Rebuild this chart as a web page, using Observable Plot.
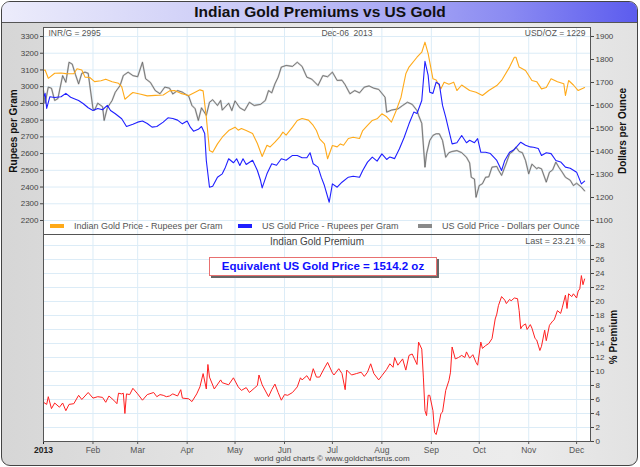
<!DOCTYPE html>
<html><head><meta charset="utf-8">
<script src="https://cdn.jsdelivr.net/npm/d3@7"></script>
<script src="https://cdn.jsdelivr.net/npm/@observablehq/plot@0.6"></script>
<style>
body{margin:0;background:#fff;font-family:"Liberation Sans",Arial,sans-serif;}
#wrap{position:relative;width:640px;height:467px;overflow:hidden;background:#fff;}
#bg{position:absolute;left:1px;top:1px;width:637px;height:465px;border:1.5px solid #444;border-radius:9px;background:linear-gradient(90deg,#d6d6d6,#e6e6e6 40%,#ececec 80%,#e2e2e2);box-sizing:border-box;}
#titlebar{position:absolute;left:2px;top:2px;width:635px;height:20px;border-radius:8px 8px 0 0;background:linear-gradient(90deg,#ececfb,#c4c4f6 45%,#8a8af2 80%,#5c5cee);border-bottom:1px solid #555;}
#title{position:absolute;left:0;top:3px;width:640px;text-align:center;font-weight:bold;font-size:15.5px;color:#111;}
.ytitle{position:absolute;font-weight:bold;font-size:10px;color:#111;transform:translate(-50%,-50%) rotate(-90deg);white-space:nowrap;}
.leg{position:absolute;font-size:9px;color:#555;white-space:nowrap;}
.sw{position:absolute;height:4px;width:14px;}
#eqbox{position:absolute;left:209px;top:257px;width:228px;height:19px;box-sizing:border-box;border:1px solid #e87070;background:#fff;box-shadow:2px 2px 0 #666;text-align:center;font-weight:bold;font-size:11.5px;color:#1010ff;line-height:17px;}
#footer{position:absolute;left:0;width:664px;top:454px;text-align:center;font-size:8px;color:#444;}
svg.p{position:absolute;left:0;}
</style></head>
<body><div id="wrap">
<div id="bg"></div>
<div id="titlebar"></div>
<div id="title">Indian Gold Premiums vs US Gold</div>
</div>
<script>
// ---------------- data ----------------
const indianInr = [["01-01",3097],["01-02",3100],["01-04",3050],["01-08",3080],["01-12",3082],["01-15",3078],["01-20",3077],["01-22",3107],["01-25",3100],["01-27",3057],["01-30",3055],["02-02",3030],["02-06",3035],["02-09",3045],["02-13",3030],["02-17",3020],["02-19",3000],["02-21",2925],["02-24",2950],["02-26",2965],["03-03",2955],["03-07",2945],["03-12",2948],["03-17",2950],["03-21",2975],["03-24",2977],["03-28",2960],["04-02",2947],["04-06",2967],["04-09",2981],["04-11",2975],["04-13",2818],["04-15",2618],["04-17",2608],["04-20",2658],["04-23",2698],["04-27",2738],["05-01",2758],["05-03",2740],["05-05",2750],["05-08",2738],["05-12",2720],["05-15",2660],["05-18",2583],["05-21",2650],["05-23",2640],["05-26",2668],["05-29",2700],["05-31",2728],["06-02",2710],["06-06",2758],["06-09",2798],["06-12",2810],["06-16",2800],["06-19",2768],["06-21",2738],["06-23",2688],["06-26",2658],["06-28",2569],["07-01",2648],["07-04",2640],["07-06",2658],["07-08",2650],["07-11",2690],["07-14",2698],["07-18",2690],["07-20",2738],["07-23",2768],["07-26",2798],["07-29",2808],["08-01",2838],["08-04",2820],["08-07",2788],["08-10",2858],["08-13",2937],["08-16",3077],["08-18",3117],["08-23",3176],["08-26",3206],["08-28",3266],["08-30",3198],["09-02",3047],["09-04",3040],["09-07",2987],["09-09",3027],["09-12",3015],["09-15",3027],["09-17",2977],["09-20",3010],["09-25",2977],["09-29",2967],["10-03",2947],["10-07",2977],["10-12",3007],["10-15",3037],["10-20",3117],["10-23",3176],["10-24",3176],["10-26",3117],["10-30",3097],["11-03",3037],["11-06",3030],["11-09",2987],["11-12",2995],["11-15",3047],["11-19",3030],["11-23",3017],["11-24",2947],["11-26",3037],["11-29",3010],["12-02",2977],["12-05",2990],["12-06",2995]];

const usInr = [["01-01",2937],["01-02",2960],["01-03",2870],["01-05",2940],["01-08",2935],["01-12",2940],["01-15",2960],["01-18",2937],["01-21",2925],["01-23",2917],["01-26",2898],["01-29",2874],["02-01",2858],["02-04",2870],["02-07",2862],["02-10",2888],["02-12",2858],["02-15",2838],["02-19",2808],["02-22",2762],["02-26",2775],["03-01",2788],["03-04",2795],["03-07",2780],["03-10",2758],["03-13",2762],["03-17",2788],["03-20",2814],["03-23",2810],["03-26",2800],["03-29",2778],["04-01",2795],["04-03",2758],["04-05",2734],["04-08",2745],["04-10",2762],["04-12",2720],["04-13",2559],["04-15",2399],["04-17",2405],["04-20",2459],["04-23",2479],["04-25",2519],["04-27",2569],["04-30",2545],["05-02",2569],["05-04",2529],["05-06",2569],["05-08",2535],["05-12",2560],["05-15",2499],["05-17",2439],["05-18",2395],["05-21",2479],["05-24",2539],["05-27",2530],["05-30",2569],["06-02",2560],["06-06",2589],["06-09",2589],["06-12",2575],["06-15",2575],["06-17",2605],["06-19",2539],["06-22",2519],["06-24",2459],["06-26",2409],["06-29",2309],["07-01",2419],["07-04",2399],["07-07",2429],["07-11",2459],["07-14",2465],["07-18",2459],["07-20",2499],["07-23",2549],["07-26",2579],["07-29",2555],["08-01",2598],["08-04",2565],["08-06",2580],["08-09",2570],["08-12",2629],["08-15",2698],["08-18",2778],["08-21",2848],["08-23",2840],["08-26",2917],["08-28",3152],["08-30",3067],["08-31",2967],["09-02",2960],["09-04",3027],["09-06",3015],["09-08",2888],["09-10",2818],["09-12",2738],["09-14",2658],["09-17",2665],["09-20",2708],["09-23",2665],["09-25",2680],["09-28",2665],["09-30",2689],["10-02",2608],["10-05",2608],["10-08",2600],["10-12",2559],["10-15",2499],["10-17",2559],["10-20",2608],["10-23",2625],["10-27",2668],["10-30",2650],["11-02",2640],["11-04",2638],["11-07",2630],["11-09",2589],["11-12",2605],["11-15",2600],["11-18",2559],["11-21",2550],["11-24",2519],["11-27",2512],["12-01",2489],["12-04",2419],["12-06",2435]];

const usdOz = [["01-01",1665],["01-02",1609],["01-04",1680],["01-06",1675],["01-08",1622],["01-10",1630],["01-13",1730],["01-15",1701],["01-17",1788],["01-19",1780],["01-21",1735],["01-23",1694],["01-25",1740],["01-27",1745],["01-29",1740],["02-01",1586],["02-02",1580],["02-04",1610],["02-07",1595],["02-08",1535],["02-10",1590],["02-13",1622],["02-15",1658],["02-18",1687],["02-20",1730],["02-23",1745],["02-26",1730],["03-01",1725],["03-03",1767],["03-04",1788],["03-06",1716],["03-09",1700],["03-12",1665],["03-15",1651],["03-18",1680],["03-21",1675],["03-23",1650],["03-26",1665],["03-29",1658],["04-02",1640],["04-04",1600],["04-06",1586],["04-08",1535],["04-10",1590],["04-13",1557],["04-15",1614],["04-17",1625],["04-20",1600],["04-22",1622],["04-23",1580],["04-27",1610],["04-29",1578],["05-01",1620],["05-04",1590],["05-07",1578],["05-10",1614],["05-13",1600],["05-17",1605],["05-20",1622],["05-22",1665],["05-24",1655],["05-26",1694],["05-28",1723],["05-30",1767],["06-02",1774],["06-06",1770],["06-09",1788],["06-12",1770],["06-15",1723],["06-18",1715],["06-22",1687],["06-25",1730],["06-28",1725],["07-01",1745],["07-04",1709],["07-07",1710],["07-09",1690],["07-12",1651],["07-15",1665],["07-18",1655],["07-21",1680],["07-24",1685],["07-27",1675],["07-30",1670],["08-03",1636],["08-04",1571],["08-07",1580],["08-11",1585],["08-14",1600],["08-17",1614],["08-20",1605],["08-23",1578],["08-24",1557],["08-26",1522],["08-28",1332],["08-29",1390],["08-31",1448],["09-02",1470],["09-04",1477],["09-06",1477],["09-08",1448],["09-10",1375],["09-12",1395],["09-14",1400],["09-17",1404],["09-20",1395],["09-23",1375],["09-25",1350],["09-26",1288],["09-28",1280],["09-29",1201],["10-01",1252],["10-03",1260],["10-05",1288],["10-07",1290],["10-09",1332],["10-12",1335],["10-13",1320],["10-15",1296],["10-18",1350],["10-20",1390],["10-22",1400],["10-24",1419],["10-26",1400],["10-28",1395],["10-30",1361],["11-01",1303],["11-03",1345],["11-06",1325],["11-07",1330],["11-09",1325],["11-12",1267],["11-14",1310],["11-16",1320],["11-18",1354],["11-20",1330],["11-22",1310],["11-24",1288],["11-27",1275],["11-29",1252],["12-01",1262],["12-04",1245],["12-06",1229]];

const premium = [["01-01",5.6],["01-03",5.3],["01-04",6.4],["01-06",4.7],["01-08",5.5],["01-11",4.9],["01-13",5.5],["01-15",4.4],["01-17",5.3],["01-20",5.4],["01-23",6.6],["01-25",6.0],["01-29",7.0],["02-01",6.2],["02-04",6.4],["02-07",6.3],["02-09",5.6],["02-11",6.5],["02-14",5.9],["02-16",5.4],["02-17",6.9],["02-19",6.8],["02-20",6.9],["02-21",4.0],["02-22",6.8],["02-24",6.7],["02-26",7.6],["03-01",6.8],["03-04",5.9],["03-07",6.7],["03-11",7.0],["03-13",6.4],["03-15",6.7],["03-17",6.6],["03-19",6.4],["03-21",6.5],["03-23",6.8],["03-26",6.5],["03-28",7.4],["03-29",6.2],["04-02",6.1],["04-04",5.7],["04-07",6.8],["04-09",7.8],["04-11",9.7],["04-13",7.5],["04-14",11.0],["04-15",9.2],["04-18",7.5],["04-22",8.8],["04-23",8.4],["04-27",8.1],["04-30",9.1],["05-03",7.8],["05-05",7.3],["05-08",7.7],["05-10",7.0],["05-13",7.6],["05-15",8.0],["05-16",9.5],["05-18",8.1],["05-22",6.4],["05-24",7.4],["05-26",8.2],["05-28",7.0],["05-30",5.9],["06-01",6.7],["06-03",6.6],["06-06",7.0],["06-09",7.8],["06-11",9.1],["06-12",8.8],["06-15",9.4],["06-17",8.7],["06-19",10.4],["06-21",9.2],["06-23",9.2],["06-26",10.5],["06-28",11.3],["07-01",9.8],["07-02",9.5],["07-05",10.4],["07-07",9.7],["07-09",7.4],["07-10",10.2],["07-13",9.5],["07-16",9.7],["07-19",9.9],["07-21",9.3],["07-23",9.9],["07-25",11.1],["07-27",9.7],["07-30",8.8],["08-01",9.4],["08-04",10.3],["08-06",11.1],["08-08",10.6],["08-09",12.0],["08-11",10.9],["08-14",11.8],["08-16",10.2],["08-18",12.3],["08-20",12.5],["08-23",11.0],["08-24",14.2],["08-26",13.2],["08-27",9.2],["08-28",4.4],["08-29",3.7],["08-30",6.6],["08-31",6.6],["09-02",4.4],["09-03",1.3],["09-04",1.0],["09-06",2.8],["09-07",4.0],["09-08",4.2],["09-10",7.3],["09-12",8.7],["09-13",9.9],["09-14",13.5],["09-16",11.8],["09-18",12.0],["09-20",12.3],["09-22",12.0],["09-23",12.8],["09-25",11.9],["09-27",12.4],["09-29",11.3],["09-30",10.9],["10-02",14.2],["10-03",13.3],["10-05",13.7],["10-07",14.0],["10-09",14.7],["10-11",17.5],["10-12",18.2],["10-13",19.4],["10-15",20.7],["10-17",20.2],["10-18",19.7],["10-20",20.3],["10-21",20.1],["10-23",20.5],["10-25",20.4],["10-26",18.7],["10-27",16.1],["10-28",16.5],["10-30",16.8],["10-31",16.0],["11-02",16.7],["11-03",16.2],["11-05",14.7],["11-06",14.5],["11-08",13.0],["11-09",13.6],["11-11",15.9],["11-12",14.4],["11-14",16.6],["11-16",17.2],["11-17",17.4],["11-19",18.7],["11-21",18.3],["11-22",19.1],["11-24",20.9],["11-25",19.0],["11-26",21.1],["11-28",20.7],["11-29",21.1],["12-01",20.5],["12-02",21.5],["12-03",21.8],["12-04",23.7],["12-05",22.4],["12-06",23.21]];

const monthLabels = ["2013","Feb","Mar","Apr","May","Jun","Jul","Aug","Sep","Oct","Nov","Dec"];
const rupeeTicks = [2200,2300,2400,2500,2600,2700,2800,2900,3000,3100,3200,3300];
const dollarTicks = [1100,1200,1300,1400,1500,1600,1700,1800,1900];
const premiumTicks = [0,2,4,6,8,10,12,14,16,18,20,22,24,26,28];
const seriesNames = ["Indian Gold Price - Rupees per Gram","US Gold Price - Rupees per Gram","US Gold Price - Dollars per Ounce"];
const seriesColors = ["#ffaa1a","#1f1fff","#8a8a8a"];
const dateLabel = "Dec-06  2013";
const equivalentUsPrice = 1514.2;

// ---------------- helpers ----------------
const parse = a => a.map(([d,v]) => ({date:new Date(`2013-${d}T00:00:00Z`), v}));
const IND = parse(indianInr), USI = parse(usInr), USD = parse(usdOz), PRE = parse(premium);
const months = d3.range(12).map(m => new Date(Date.UTC(2013,m,1)));
const xDomain = [new Date("2013-01-01T00:00:00Z"), new Date("2013-12-09T17:00:00Z")];
// dollar axis mapped onto rupee axis (1100->2200, 1900->3300)
const toR = u => 2200 + (u - 1100) * 1100 / 800;
const fromR = r => 1100 + (r - 2200) * 800 / 1100;
const grid = "#dcecf7";
const font = "Liberation Sans, Arial, sans-serif";
const wrap = document.getElementById("wrap");

// ---------------- top panel ----------------
const topPlot = Plot.plot({
  width:640, height:240, marginTop:27, marginBottom:6, marginLeft:43, marginRight:50,
  style:{background:"transparent", fontFamily:font, overflow:"visible"},
  x:{type:"utc", domain:xDomain, axis:null},
  y:{domain:[2116.3,3353.8], axis:null},
  marks:[
    Plot.frame({fill:"white"}),
    Plot.gridX(months.slice(1), {stroke:grid, strokeOpacity:1}),
    Plot.gridY(rupeeTicks, {stroke:grid, strokeOpacity:1}),
    Plot.line(USD, {x:"date", y:d=>toR(d.v), stroke:"#b0b0b0", strokeWidth:1.8, strokeOpacity:0.6}),
    Plot.line(USD, {x:"date", y:d=>toR(d.v), stroke:"#555", strokeWidth:0.7}),
    Plot.line(IND, {x:"date", y:"v", stroke:seriesColors[0], strokeWidth:1.1}),
    Plot.line(USI, {x:"date", y:"v", stroke:seriesColors[1], strokeWidth:1.1}),
    Plot.axisY(rupeeTicks, {anchor:"left", tickSize:3, tickPadding:2, fontSize:8, color:"#444", label:null, tickFormat:d=>String(d)}),
    Plot.axisY(dollarTicks.map(toR), {anchor:"right", tickSize:3, tickPadding:2, fontSize:8, color:"#444", label:null, tickFormat:d=>String(Math.round(fromR(d)))}),
    Plot.text([`INR/G = ${indianInr.at(-1)[1]}`], {frameAnchor:"top-left", dx:5, dy:2, fontSize:8.5, fill:"#555"}),
    Plot.text([dateLabel], {frameAnchor:"top", dx:30, dy:2, fontSize:8.5, fill:"#555"}),
    Plot.text([`USD/OZ = ${usdOz.at(-1)[1]}`], {frameAnchor:"top-right", dx:-5, dy:2, fontSize:8.5, fill:"#555"}),
    Plot.frame({stroke:"#555"})
  ]
});
topPlot.classList.add("p"); topPlot.style.top = "0px";
wrap.appendChild(topPlot);

// ---------------- bottom panel ----------------
const botPlot = Plot.plot({
  width:640, height:233, marginTop:0, marginBottom:26, marginLeft:43, marginRight:50,
  style:{background:"transparent", fontFamily:font, overflow:"visible"},
  x:{type:"utc", domain:xDomain, axis:null},
  y:{domain:[0,29.57], axis:null},
  marks:[
    Plot.frame({fill:"white"}),
    Plot.gridX(months.slice(1), {stroke:grid, strokeOpacity:1}),
    Plot.gridY(premiumTicks, {stroke:grid, strokeOpacity:1}),
    Plot.line(PRE, {x:"date", y:"v", stroke:"#ff2020", strokeWidth:1}),
    Plot.axisY(premiumTicks, {anchor:"right", tickSize:3, tickPadding:2, fontSize:8, color:"#444", label:null, tickFormat:d=>String(d)}),
    Plot.axisX(months.slice(0,1), {anchor:"bottom", tickSize:3, tickPadding:2, fontSize:8.5, fontWeight:"bold", color:"#222", label:null, tickFormat:()=>monthLabels[0]}),
    Plot.axisX(months.slice(1), {anchor:"bottom", tickSize:3, tickPadding:2, fontSize:8.5, color:"#555", label:null, tickFormat:d=>monthLabels[d.getUTCMonth()]}),
    Plot.text(["Indian Gold Premium"], {frameAnchor:"top", dx:0, dy:3, fontSize:10, fill:"#444"}),
    Plot.text([`Last = ${premium.at(-1)[1]} %`], {frameAnchor:"top-right", dx:-5, dy:3, fontSize:9, fill:"#555"}),
    Plot.frame({stroke:"#555"})
  ]
});
botPlot.classList.add("p"); botPlot.style.top = "234px";
wrap.appendChild(botPlot);

// ---------------- html overlays ----------------
function add(html){ const t=document.createElement("template"); t.innerHTML=html.trim(); const n=t.content.firstChild; wrap.appendChild(n); return n; }
add(`<div class="ytitle" style="left:13px;top:131px">Rupees per Gram</div>`);
add(`<div class="ytitle" style="left:622px;top:131px">Dollars per Ounce</div>`);
add(`<div class="ytitle" style="left:613px;top:337px">% Premium</div>`);
const legX = [[50,74],[238,262],[418,442]];
seriesNames.forEach((n,i)=>{
  add(`<div class="sw" style="left:${legX[i][0]}px;top:224px;background:${seriesColors[i]}"></div>`);
  add(`<div class="leg" style="left:${legX[i][1]}px;top:221px">${n}</div>`);
});
add(`<div id="eqbox">Equivalent US Gold Price = ${equivalentUsPrice.toFixed(1)} oz</div>`);
add(`<div id="footer">world gold charts © www.goldchartsrus.com</div>`);
</script>
</body></html>
